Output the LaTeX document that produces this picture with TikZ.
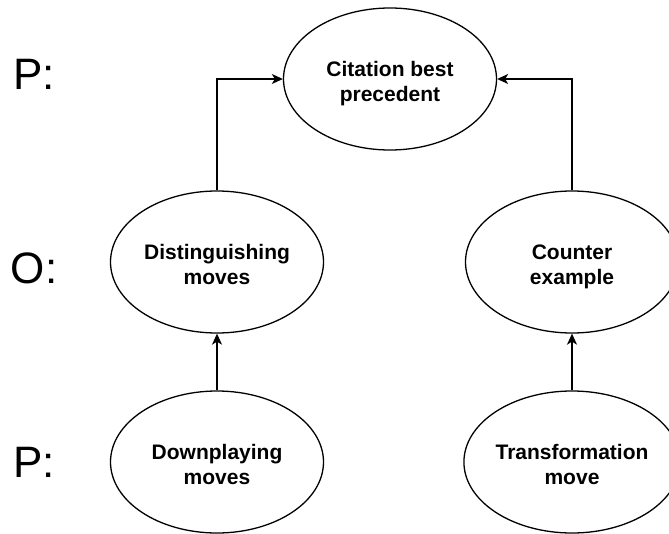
\documentclass[tikz,border=0pt]{standalone}
\usepackage{fontspec}
\setmainfont{Liberation Sans}
\usetikzlibrary{shapes.geometric,arrows.meta}

\tikzset{
  move/.style={ellipse, draw=black, line width=1.3pt, minimum width=213pt,
    minimum height=142pt, inner sep=0pt, align=center,
    font=\fontsize{21pt}{25pt}\selectfont\bfseries,
    % fixed box metrics keep every two-line label at the same height
    text height=49pt, text depth=5pt},
  player/.style={font=\fontsize{44pt}{50pt}\selectfont, inner sep=0pt},
  arr/.style={line width=1.3pt, -{Stealth[length=11pt,width=10pt,inset=3pt]}}
}

\begin{document}
\begin{tikzpicture}[x=1pt,y=-1pt]
  \useasboundingbox[fill=white] (0,0) rectangle (669,533);

  % turn labels
  \node[player] (p1) at (34,74)  {P:};
  \node[player] (o1) at (34,268) {O:};
  \node[player] (p2) at (34,462) {P:};

  % argument moves
  \node[move] (cite)  at (390,79)  {Citation best\\precedent};
  \node[move] (dist)  at (217,262) {Distinguishing\\moves};
  \node[move] (count) at (572,262) {Counter\\example};
  \node[move] (down)  at (217,462) {Downplaying\\moves};
  \node[move] (trans) at (572,462) {Transformation\\move};

  % attacks
  \draw[arr] (dist.north) |- (cite.west);
  \draw[arr] (count.north) |- (cite.east);
  \draw[arr] (down.north) -- (dist.south);
  \draw[arr] (trans.north) -- (count.south);
\end{tikzpicture}
\end{document}
